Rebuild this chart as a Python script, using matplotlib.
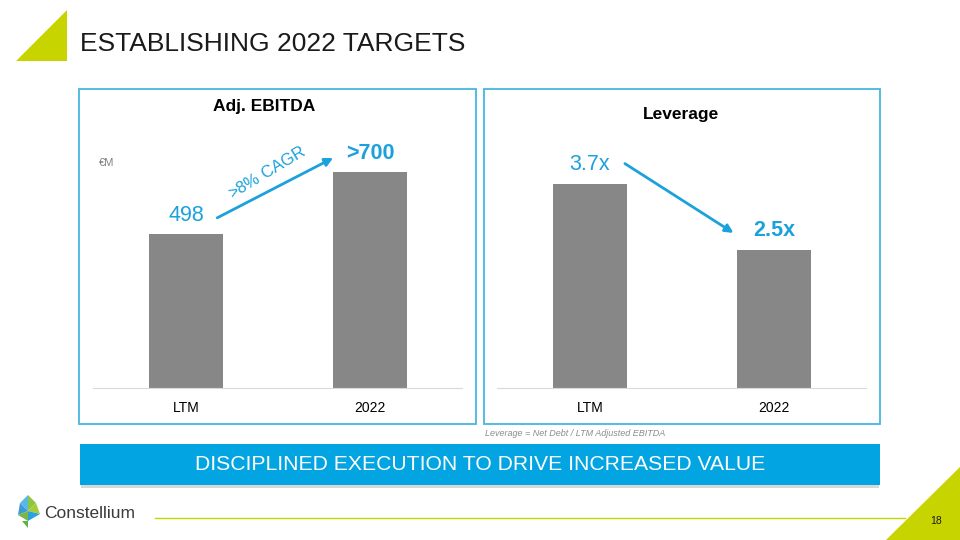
import matplotlib.pyplot as plt
from matplotlib.patches import Rectangle, Polygon

plt.rcParams["font.family"] = ["Liberation Sans", "DejaVu Sans"]

# data
categories = ["LTM", "2022"]
ebitda = [498, 700]
ebitda_labels = ["498", ">700"]
leverage = [3.7, 2.5]
leverage_labels = ["3.7x", "2.5x"]

BLUE = "#1BA1DB"
BAR = "#878787"
LIME = "#C8D400"
BORDER = "#45B6E2"

W, H = 960, 540


def fx(x):
    return x / W


def fy(y):
    return 1 - y / H


fig = plt.figure(figsize=(9.6, 5.4), dpi=100)

# header triangle + title
fig.patches.append(Polygon([(fx(16), fy(61)), (fx(67), fy(10)), (fx(67), fy(61))],
                           closed=True, fc=LIME, ec="none", transform=fig.transFigure))
fig.text(fx(80), fy(51), "ESTABLISHING 2022 TARGETS", fontsize=19, color="#1a1a1a",
         va="baseline", ha="left")

# panel frames
for x0, x1 in [(79, 476), (484, 880)]:
    fig.patches.append(Rectangle((fx(x0), fy(424)), fx(x1) - fx(x0), fy(89) - fy(424),
                                 fill=False, ec=BORDER, lw=1.3, transform=fig.transFigure))


def make_axes(x0, x1, top, bottom):
    return fig.add_axes([fx(x0), fy(bottom), fx(x1) - fx(x0), fy(top) - fy(bottom)])


def style(ax, ymax):
    ax.set_xlim(-0.505, 1.5)
    ax.set_ylim(0, ymax)
    for s in ["top", "left", "right"]:
        ax.spines[s].set_visible(False)
    ax.spines["bottom"].set_color("#D9D9D9")
    ax.set_yticks([])
    ax.set_xticks(range(len(categories)))
    ax.set_xticklabels(categories, fontsize=10)
    ax.tick_params(axis="x", length=0, pad=9)
    ax.patch.set_alpha(0)


# Adj. EBITDA
ax1 = make_axes(93, 462, 120, 388)
ax1.bar(range(2), ebitda, width=0.4, color=BAR)
style(ax1, 268 / (154 / 498))
for i, (v, lab) in enumerate(zip(ebitda, ebitda_labels)):
    ax1.annotate(lab, (i, v), xytext=(0, 13), textcoords="offset points",
                 ha="center", va="center", fontsize=15.5, color=BLUE,
                 fontweight="bold" if i == 1 else "normal")
ax1.annotate("", xy=(0.8, ebitda[1] * 1.063), xytext=(0.17, ebitda[0] * 1.105),
             arrowprops=dict(arrowstyle="-|>", color=BLUE, lw=2, mutation_scale=12,
                             shrinkA=0, shrinkB=0))
fig.text(fx(264), fy(106), "Adj. EBITDA", ha="center", va="center", fontsize=12.5,
         fontweight="bold")
fig.text(fx(99), fy(163), "€M", ha="left", va="center", fontsize=8, color="#7f7f7f")
fig.text(fx(267), fy(172), r">$\mathregular{8}$% CAGR", ha="center", va="center",
         fontsize=12, color=BLUE, rotation=31, rotation_mode="anchor")

# Leverage
ax2 = make_axes(497, 866, 120, 388)
ax2.bar(range(2), leverage, width=0.4, color=BAR)
style(ax2, 268 / (204 / 3.7))
for i, (v, lab) in enumerate(zip(leverage, leverage_labels)):
    ax2.annotate(lab, (i, v), xytext=(0, 14), textcoords="offset points",
                 ha="center", va="center", fontsize=15.5, color=BLUE,
                 fontweight="bold" if i == 1 else "normal")
ax2.annotate("", xy=(0.78, leverage[1] * 1.125), xytext=(0.19, leverage[0] * 1.10),
             arrowprops=dict(arrowstyle="-|>", color=BLUE, lw=2, mutation_scale=12,
                             shrinkA=0, shrinkB=0))
fig.text(fx(681), fy(114), "Leverage", ha="center", va="center", fontsize=12.5,
         fontweight="bold")

# footnote
fig.text(fx(485), fy(433), "Leverage = Net Debt / LTM Adjusted EBITDA", ha="left",
         va="center", fontsize=6.5, style="italic", color="#8c8c8c")

# banner with soft shadow below
fig.patches.append(Rectangle((fx(81), fy(488)), fx(798), fy(446) - fy(488),
                             fc="#c8c8c8", ec="none", transform=fig.transFigure, alpha=0.7))
fig.patches.append(Rectangle((fx(80), fy(485)), fx(800), fy(444) - fy(485),
                             fc="#02A5E2", ec="none", transform=fig.transFigure))
fig.text(fx(480), fy(465), "DISCIPLINED EXECUTION TO DRIVE INCREASED VALUE",
         ha="center", va="center", fontsize=15.2, color="white")

# footer
fig.add_artist(plt.Line2D([fx(155), fx(905)], [fy(518), fy(518)], color=LIME, lw=1))
fig.patches.append(Polygon([(fx(886), fy(540)), (fx(960), fy(467)), (fx(960), fy(540))],
                           closed=True, fc=LIME, ec="none", transform=fig.transFigure))
fig.text(fx(936), fy(521), "18", ha="center", va="center", fontsize=7.5, color="#1a1a1a")

# logo
logo = [
    ([(28, 495), (36, 503), (28, 511)], "#8DC63F"),
    ([(28, 495), (20, 503), (28, 511)], "#5BB7E5"),
    ([(20, 503), (28, 511), (18, 515)], "#3C9AD6"),
    ([(36, 503), (28, 511), (40, 514)], "#A5CD39"),
    ([(18, 515), (28, 511), (28, 521)], "#7AB648"),
    ([(40, 514), (28, 511), (28, 521)], "#29A3DA"),
    ([(28, 521), (22, 521), (28, 528)], "#5DB246"),
]
for pts, c in logo:
    fig.patches.append(Polygon([(fx(x), fy(y)) for x, y in pts], closed=True, fc=c,
                               ec="none", transform=fig.transFigure))
fig.text(fx(44), fy(513), "Constellium", ha="left", va="center", fontsize=12.5,
         color="#3a3a3a")

fig.savefig("out.png", dpi=100)
